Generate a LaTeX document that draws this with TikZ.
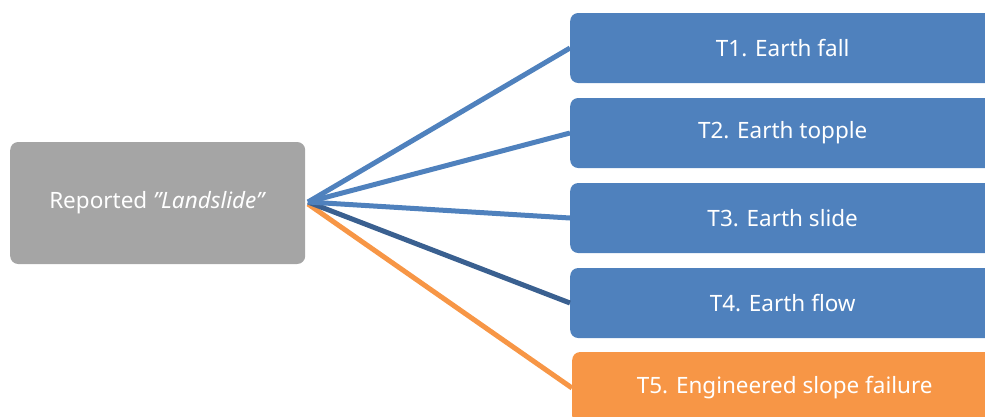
\documentclass[tikz,border=0pt]{standalone}
\usepackage{fontspec}
\setmainfont{Noto Sans}
\definecolor{boxblue}{HTML}{4F81BD}
\definecolor{boxgray}{HTML}{A5A5A5}
\definecolor{boxorange}{HTML}{F79646}
\definecolor{darkline}{HTML}{3A6090}
\begin{document}
\begin{tikzpicture}[x=1pt,y=-1pt,
  box/.style={rounded corners=8pt, draw=none, text=white, font=\fontsize{22.5}{26}\selectfont, inner sep=0pt, anchor=west},
  tbox/.style={box, fill=boxblue, minimum width=425pt, minimum height=70pt},
  conn/.style={line width=5pt, draw=boxblue}]
\useasboundingbox (0,0) rectangle (985,416);
\clip (0,0) rectangle (985,416);
\node[box, fill=boxgray, minimum width=295pt, minimum height=122pt] (src) at (10,203) {Reported \textit{"Landslide"}};
\node[tbox] (t1) at (570,48) {T1. Earth fall};
\node[tbox] (t2) at (570,133) {T2. Earth topple};
\node[tbox] (t3) at (570,218) {T3. Earth slide};
\node[tbox] (t4) at (570,303) {T4. Earth flow};
\node[tbox, fill=boxorange, minimum height=72pt] (t5) at (572,388) {T5. Engineered slope failure};
\coordinate (o) at (308,202);
\coordinate (o5) at (308,204);
\draw[conn, draw=boxorange] (o5) -- (t5.west);
\draw[conn, draw=darkline] (o) -- (t4.west);
\draw[conn] (o) -- (t3.west);
\draw[conn] (o) -- (t2.west);
\draw[conn] (o) -- (t1.west);
\end{tikzpicture}
\end{document}
